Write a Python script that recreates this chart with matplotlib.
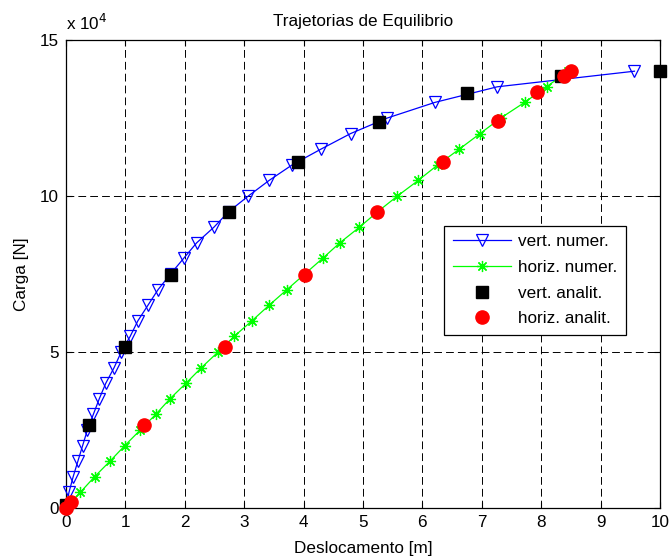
import matplotlib
matplotlib.use("Agg")
import matplotlib.pyplot as plt
from matplotlib.ticker import FuncFormatter

plt.rcParams['font.family'] = ['Liberation Sans', 'DejaVu Sans']

# Data (displacement in m, load in N)
vert_num_x = [0.0, 0.05, 0.12, 0.20, 0.28, 0.36, 0.46, 0.56, 0.67, 0.81, 0.93, 1.08, 1.21, 1.38,
              1.55, 1.76, 1.98, 2.20, 2.49, 2.74, 3.07, 3.42, 3.81, 4.29, 4.79, 5.41, 6.21, 7.26, 9.57]
vert_num_y = [0, 5000, 10000, 15000, 20000, 25000, 30000, 35000, 40000, 45000, 50000, 55000, 60000,
              65000, 70000, 75000, 80000, 85000, 90000, 95000, 100000, 105000, 110000, 115000, 120000,
              125000, 130000, 135000, 140000]

horiz_num_x = [0.0, 0.24, 0.48, 0.74, 0.99, 1.25, 1.51, 1.75, 2.02, 2.28, 2.56, 2.83, 3.13, 3.42,
               3.72, 4.02, 4.32, 4.61, 4.94, 5.25, 5.58, 5.93, 6.26, 6.62, 6.97, 7.32, 7.72, 8.09, 8.45]
horiz_num_y = [0, 5000, 10000, 15000, 20000, 25000, 30000, 35000, 40000, 45000, 50000, 55000, 60000,
               65000, 70000, 75000, 80000, 85000, 90000, 95000, 100000, 105000, 110000, 115000, 120000,
               125000, 130000, 135000, 140000]

vert_an_x = [0.0, 0.39, 0.99, 1.77, 2.74, 3.91, 5.27, 6.75, 8.33, 10.0]
vert_an_y = [1000, 26500, 51600, 74600, 94900, 110800, 123800, 133000, 138500, 140000]

horiz_an_x = [0.0, 0.08, 1.32, 2.67, 4.02, 5.24, 6.35, 7.27, 7.93, 8.39, 8.51]
horiz_an_y = [0, 1800, 26500, 51600, 74600, 94900, 110900, 123900, 133300, 138500, 140000]

x_ticks = [0, 1, 2, 3, 4, 5, 6, 7, 8, 9, 10]
y_ticks = [0, 50000, 100000, 150000]

FS = 12.3

fig = plt.figure(figsize=(6.72, 5.57), dpi=100)
ax = fig.add_axes([66/672, 49/557, 594/672, 468/557])

ax.plot(vert_num_x, vert_num_y, color='#0000FF', lw=0.9, marker='v', ms=9, mfc='none',
        mec='#0000FF', mew=0.9, label='vert. numer.', clip_on=False, zorder=3)
ax.plot(horiz_num_x, horiz_num_y, color='#00FF00', lw=0.9, marker=(8, 2, 0), ms=8,
        mec='#00FF00', mew=0.9, label='horiz. numer.', clip_on=False, zorder=3)
ax.plot(vert_an_x, vert_an_y, ls='none', marker='s', ms=8.5, color='black',
        label='vert. analit.', clip_on=False, zorder=4)
ax.plot(horiz_an_x, horiz_an_y, ls='none', marker='o', ms=9.5, color='#FF0000',
        label='horiz. analit.', clip_on=False, zorder=5)

ax.set_xlim(0, 10)
ax.set_ylim(0, 150000)
ax.set_xticks(x_ticks)
ax.set_yticks(y_ticks)
ax.yaxis.set_major_formatter(FuncFormatter(lambda v, p: f"{v/1e4:g}"))
ax.tick_params(direction='in', length=4, width=0.8, top=True, right=True, labelsize=FS, pad=5)
ax.grid(True, color='black', ls=(0, (8, 4.2)), lw=0.7)
for s in ax.spines.values():
    s.set_linewidth(0.9)

ax.set_title('Trajetorias de Equilibrio', fontsize=FS, pad=10)
ax.set_xlabel('Deslocamento [m]', fontsize=FS, labelpad=8)
ax.set_ylabel('Carga [N]', fontsize=FS, labelpad=8)
ax.text(0.0, 1.015, r'x 10$^{4}$', transform=ax.transAxes, fontsize=FS, ha='left', va='bottom')

leg = ax.legend(loc='upper right', bbox_to_anchor=(0.943, 0.603), fancybox=False,
                edgecolor='black', framealpha=1, fontsize=FS, handlelength=3.4,
                borderpad=0.5, labelspacing=0.62, handletextpad=0.45, borderaxespad=0)
leg.get_frame().set_linewidth(0.9)

fig.savefig('out.png', dpi=100)
